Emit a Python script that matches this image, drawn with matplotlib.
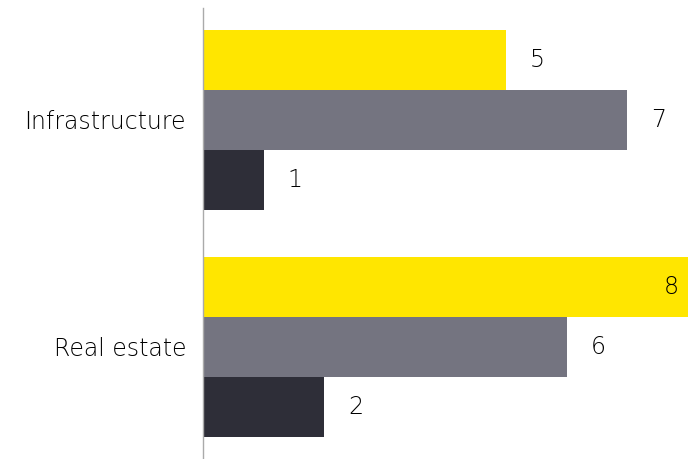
import matplotlib
matplotlib.use("Agg")
import matplotlib.pyplot as plt
import numpy as np

categories = ["Infrastructure", "Real estate"]
series_a = [5, 8]   # yellow
series_b = [7, 6]   # gray
series_c = [1, 2]   # dark
colors = ["#FFE600", "#747480", "#2E2E38"]

plt.rcParams['font.family'] = ['DejaVu Sans']
FS = 17
TXT = '#000000'
WT = 'light'

fig = plt.figure(figsize=(6.88, 4.59), dpi=100)
W, H = 688, 459
ax = fig.add_axes([203 / W, 0, (W - 203) / W, (H - 8) / H])

y = np.arange(len(categories))
h = 60 / 227
offsets = [-h, 0, h]
for vals, off, c in zip([series_a, series_b, series_c], offsets, colors):
    ax.barh(y + off, vals, height=h, color=c, edgecolor='none')
    for yi, v in zip(y, vals):
        if v >= 8:
            ax.annotate(str(v), (v, yi + off), xytext=(-9, 0), textcoords='offset pixels',
                        ha='right', va='center', fontsize=FS, color=TXT, fontweight=WT)
        else:
            ax.annotate(str(v), (v, yi + off), xytext=(24, 0), textcoords='offset pixels',
                        ha='left', va='center', fontsize=FS, color=TXT, fontweight=WT)

ax.set_xlim(0, 8)
ax.set_ylim((459 - 119.5) / 227, -111.5 / 227)
ax.set_yticks(y)
ax.set_yticklabels(categories, fontsize=FS, fontweight=WT, color=TXT)
ax.tick_params(axis='y', length=0, pad=17 * 72 / 100)
ax.set_xticks([])
for s in ['top', 'right', 'bottom']:
    ax.spines[s].set_visible(False)
ax.spines['left'].set_color('#AAAAAA')
ax.spines['left'].set_linewidth(1)

fig.savefig("out.png", dpi=100)
